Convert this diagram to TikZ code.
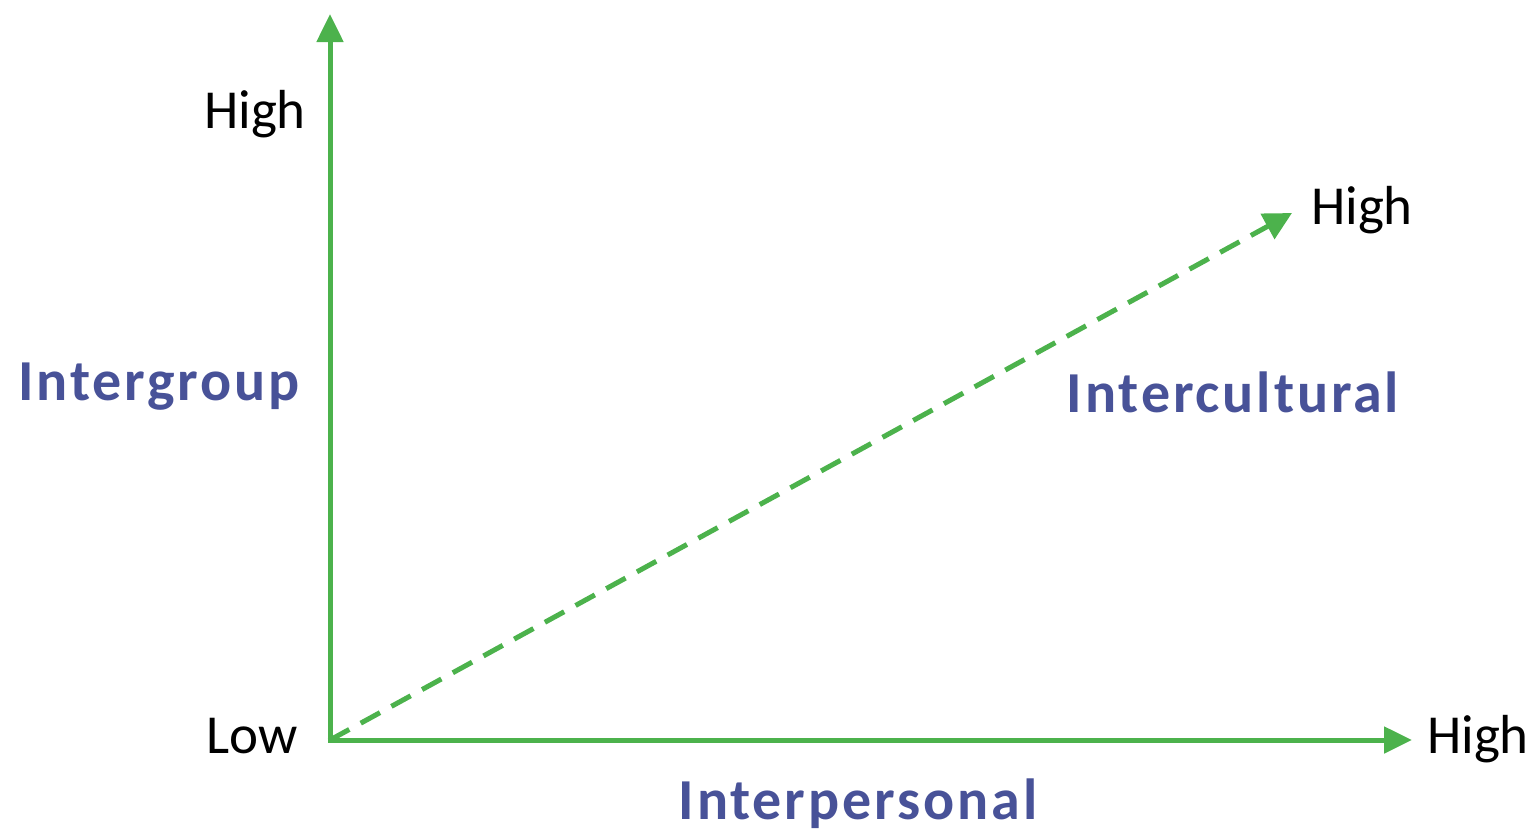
\documentclass[tikz,border=0pt]{standalone}
\usepackage{fontspec}
\setmainfont{Carlito}
\usetikzlibrary{arrows.meta}
\definecolor{axisgreen}{RGB}{76,178,76}
\definecolor{labelblue}{RGB}{72,82,152}
\begin{document}
\begin{tikzpicture}[x=1pt,y=-1pt,
  axis/.style={draw=axisgreen,line width=5pt,-{Triangle[length=28pt,width=26pt]}},
  diag/.style={draw=axisgreen,line width=5pt,dash pattern=on 22pt off 13pt,-{Triangle[length=28pt,width=28pt]}},
  tick/.style={font=\fontsize{55}{60}\selectfont,text=black,inner sep=0pt,anchor=base},
  title/.style={font=\fontsize{58}{62}\selectfont\bfseries\addfontfeatures{LetterSpace=5},text=labelblue,inner sep=0pt,anchor=base}]
\useasboundingbox (0,0) rectangle (1538,835);
\coordinate (O) at (330,740);
\coordinate (Ytop) at (330,14);
\coordinate (Xend) at (1412,740);
\coordinate (Dend) at (1292,213);
\draw[axis] ([yshift=2.5pt]O) -- (Ytop);
\draw[axis] ([xshift=-2.5pt]O) -- (Xend);
\draw[diag] (O) -- (Dend);
\node[tick] (hy) at (255,128) {High};
\node[tick] (lo) at (252,753) {Low};
\node[tick] (hx) at (1478,753) {High};
\node[tick] (hd) at (1362,224) {High};
\node[title] (ig) at (159,400) {Intergroup};
\node[title] (ic) at (1233,412) {Intercultural};
\node[title] (ip) at (858,819) {Interpersonal};
\end{tikzpicture}
\end{document}
